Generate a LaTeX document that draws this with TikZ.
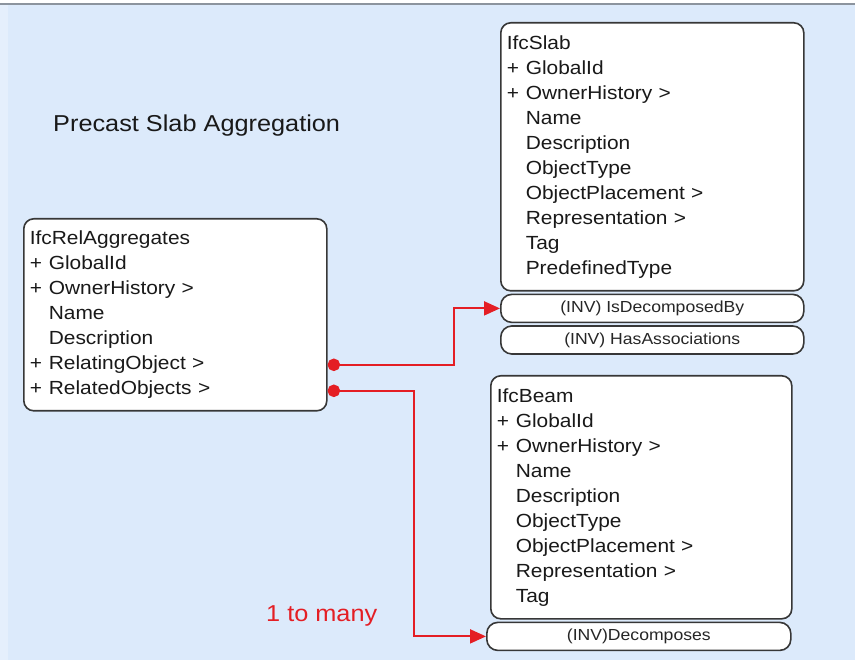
\documentclass[tikz,border=0pt]{standalone}
\usepackage{fontspec}
\setmainfont{Liberation Sans}[FakeStretch=1.1]
\usetikzlibrary{arrows.meta}
\usetikzlibrary{positioning}
\definecolor{bgblue}{RGB}{220,234,251}
\definecolor{framegray}{RGB}{140,148,158}
\definecolor{boxgray}{RGB}{55,55,55}
\definecolor{linkred}{RGB}{228,30,36}
\tikzstyle{classbox} = [rectangle, draw=boxgray, line width=1.6pt, rounded corners=10pt, fill=white, align=left, inner xsep=6pt, inner ysep=0pt, font=\fontsize{19}{25}\selectfont, text=black!90]
\tikzstyle{invband} = [rectangle, draw=boxgray, line width=1.6pt, rounded corners=11pt, fill=white, minimum width=303pt, minimum height=28pt, inner sep=0pt, font=\fontsize{16}{16}\selectfont, text=black!85]
\tikzstyle{link} = [draw=linkred, line width=2pt, {Circle[length=12.5pt]}-{Triangle[length=16pt,width=14pt]}]
\newcommand{\plus}{\makebox[19pt][l]{+}}
\newcommand{\pad}{\makebox[19pt][l]{}}

\begin{document}
\begin{tikzpicture}[x=1pt, y=-1pt]
   % Background
   \useasboundingbox (0,0) rectangle (855,660);
   \fill[bgblue] (0,0) rectangle (855,660);
   \fill[bgblue!75!white] (0,0) rectangle (8,660);
   \fill[white] (0,0) rectangle (855,3);
   \draw[framegray, line width=2pt] (0,4) -- (855,4);

   % Place nodes
   \node [anchor=base west, inner sep=0pt, font=\fontsize{23}{23}\selectfont, text=black!90] (title) at (53,131.5) {Precast Slab Aggregation};

   \node [classbox, anchor=north west, text width=291pt, minimum height=192pt] (rel) at (23,218)
      {IfcRelAggregates \\ \plus GlobalId \\ \plus OwnerHistory > \\ \pad Name \\ \pad Description \\ \plus RelatingObject > \\ \plus RelatedObjects >};

   \node [classbox, anchor=north west, text width=291pt, minimum height=268pt] (slab) at (500,22)
      {IfcSlab \\ \plus GlobalId \\ \plus OwnerHistory > \\ \pad Name \\ \pad Description \\ \pad ObjectType \\ \pad ObjectPlacement > \\ \pad Representation > \\ \pad Tag \\ \pad PredefinedType};
   \node [invband, below = 2pt of slab] (slab-dec) {(INV) IsDecomposedBy};
   \node [invband, below = 2pt of slab-dec] (slab-has) {(INV) HasAssociations};

   \node [classbox, anchor=north west, text width=289pt, minimum height=243pt] (beam) at (490,375)
      {IfcBeam \\ \plus GlobalId \\ \plus OwnerHistory > \\ \pad Name \\ \pad Description \\ \pad ObjectType \\ \pad ObjectPlacement > \\ \pad Representation > \\ \pad Tag};
   \node [invband, below = 2pt of beam, xshift=-2.5pt, minimum width=304pt] (beam-dec) {(INV)Decomposes};

   \node [anchor=base west, inner sep=0pt, font=\fontsize{23}{23}\selectfont, text=linkred] (card) at (266,621) {1 to many};

   % Connectors
   \coordinate (relating) at ([yshift=-50pt]rel.east);
   \coordinate (related) at ([yshift=-76pt]rel.east);
   \draw[link] (relating) -- ++(126,0) |- (slab-dec.west);
   \draw[link] (related) -- ++(86,0) |- (beam-dec.west);
\end{tikzpicture}
\end{document}
